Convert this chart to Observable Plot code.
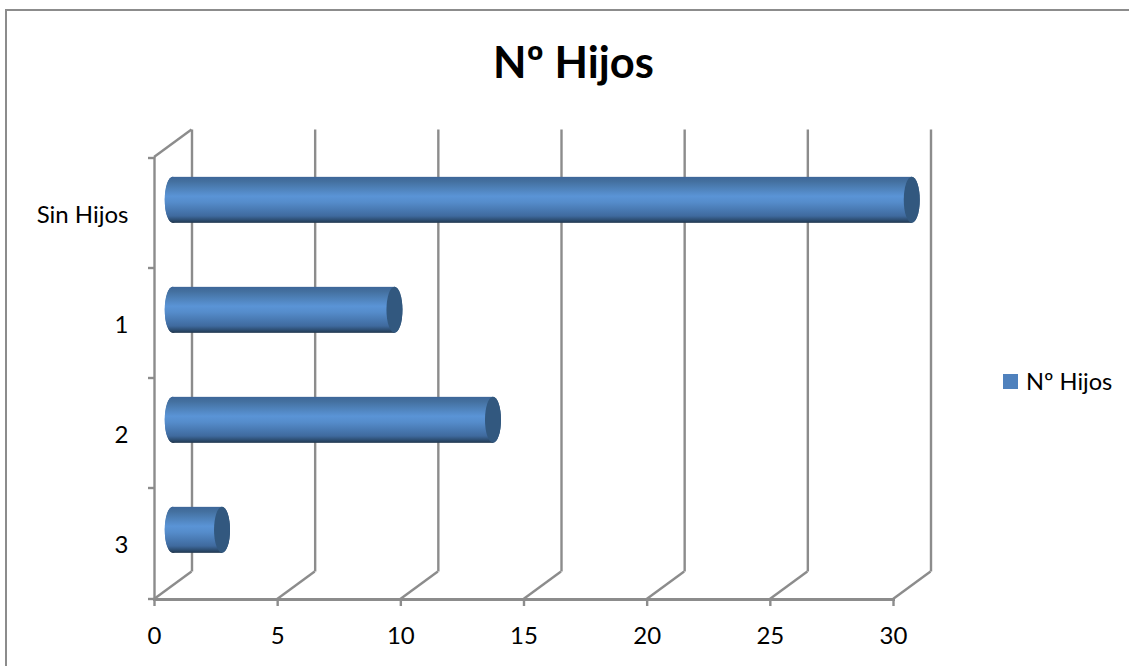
<!DOCTYPE html>
<html>
<head>
<meta charset="utf-8">
<script src="https://cdn.jsdelivr.net/npm/d3@7"></script>
<script src="https://cdn.jsdelivr.net/npm/@observablehq/plot@0.6"></script>
<style>
  html, body { margin: 0; padding: 0; background: #fff; }
  #chart { position: relative; width: 1129px; height: 666px; overflow: hidden; font-family: Lato, "Open Sans", sans-serif; color: #000; }
  #border { position: absolute; left: 5px; top: 9px; right: -5px; bottom: -5px; border-top: 2px solid #8c8c8c; border-left: 2px solid #8c8c8c; }
  #title { position: absolute; left: 0; top: 34px; width: 1147px; text-align: center; font-size: 43.5px; font-weight: 700; line-height: 54px; }
  #legend { position: absolute; left: 1003px; top: 367px; display: flex; align-items: center; gap: 8px; font-size: 23.6px; line-height: 28px; }
  #legend i { display: block; width: 15px; height: 15px; background: #4f81bd; }
  #plot { position: absolute; left: 0; top: 0; }
</style>
</head>
<body>
<div id="chart">
  <div id="border"></div>
  <div id="plot"></div>
  <div id="title">Nº Hijos</div>
  <div id="legend"><i></i><span>Nº Hijos</span></div>
</div>
<script>
const categories = ["Sin Hijos", "1", "2", "3"];
const values = [30, 9, 13, 2];
const xTicks = [0, 5, 10, 15, 20, 25, 30];
const seriesName = "Nº Hijos";

const rows = categories.map((c, i) => ({category: c, value: values[i]}));

const depthX = 37.5, depthY = -27.5;
const capRx = 8;
const axisColor = "#8c8c8c";
const lineWidth = 2.4;
const barShift = 0.6;
const svgNS = "http://www.w3.org/2000/svg";
const el = (name, attrs) => {
  const e = document.createElementNS(svgNS, name);
  for (const k in attrs) e.setAttribute(k, attrs[k]);
  return e;
};

// Gradient for the cylinder body
function gradientDefs() {
  const defs = el("defs", {});
  const g = el("linearGradient", {id: "cyl", x1: 0, y1: 0, x2: 0, y2: 1});
  [[0, "#3d6699"], [0.1, "#44709f"], [0.42, "#5a94d6"], [0.55, "#558ccb"], [0.85, "#3f6a9e"], [0.96, "#284666"], [1, "#22384f"]]
    .forEach(([o, c]) => g.appendChild(el("stop", {offset: o, "stop-color": c})));
  defs.appendChild(g);
  return defs;
}

// Floor diagonals and category-boundary ticks, from the plot's own scales
function frameDetail(index, scales, vals, dims) {
  const g = el("g", {stroke: axisColor, "stroke-width": lineWidth, fill: "none"});
  const bottom = dims.height - dims.marginBottom, top = dims.marginTop;
  for (const t of xTicks) {
    const x = scales.x(t);
    g.appendChild(el("line", {x1: x, y1: bottom, x2: x + depthX, y2: bottom + depthY}));
  }
  const x0 = scales.x(0);
  g.appendChild(el("line", {x1: x0, y1: top, x2: x0 + depthX, y2: top + depthY}));
  const edges = categories.map(c => scales.y(c)).concat(bottom);
  for (const y of edges) g.appendChild(el("line", {x1: x0 - 6, y1: y, x2: x0, y2: y}));
  return g;
}

// Elliptical cylinder ends, placed through the scales
function caps(index, scales, vals, dims) {
  const g = el("g", {});
  const bw = scales.y.bandwidth();
  const cy = c => scales.y(c) + bw / 2 + depthY / 2 + barShift;
  const ry = 23;
  for (const r of rows) {
    g.appendChild(el("ellipse", {cx: scales.x(0) + depthX / 2, cy: cy(r.category), rx: capRx, ry, fill: "url(#cyl)"}));
    g.appendChild(el("ellipse", {cx: scales.x(r.value) + depthX / 2, cy: cy(r.category), rx: capRx, ry, fill: "#32587f"}));
  }
  return g;
}

const plot = Plot.plot({
  width: 1129,
  height: 666,
  marginLeft: 154,
  marginRight: 236,
  marginTop: 157,
  marginBottom: 67,
  style: {background: "transparent", fontFamily: "Lato, 'Open Sans', sans-serif", fontSize: "24px", color: "#000"},
  x: {domain: [0, 30], label: null},
  y: {domain: categories, padding: 0, label: null},
  marks: [
    () => gradientDefs(),
    Plot.ruleX(xTicks, {x: d => d, dx: depthX, dy: depthY, stroke: axisColor, strokeWidth: lineWidth, strokeOpacity: 1}),
    Plot.ruleX([0], {stroke: axisColor, strokeWidth: lineWidth, strokeOpacity: 1}),
    Plot.frame({anchor: "bottom", stroke: axisColor, strokeWidth: 3, strokeOpacity: 1}),
    frameDetail,
    Plot.axisX({ticks: xTicks, tickSize: 7, tickPadding: 20, stroke: axisColor, strokeWidth: lineWidth, strokeOpacity: 1, fontSize: 24, fill: "#000", anchor: "bottom", tickFormat: d => String(d)}),
    Plot.axisY({tickSize: 0, tickPadding: 26, fontSize: 24, fill: "#000", anchor: "left", dy: 2}),
    caps,
    Plot.barX(rows, {x1: 0, x2: "value", y: "category", dx: depthX / 2, dy: depthY / 2 + barShift, insetTop: 32, insetBottom: 32, fill: "url(#cyl)"}),
    (i, s, v, d) => caps(i, s, v, d)
  ]
});
document.getElementById("plot").appendChild(plot);
</script>
</body>
</html>
